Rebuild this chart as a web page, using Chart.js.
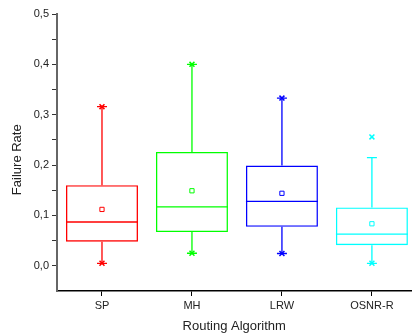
<!DOCTYPE html>
<html lang="en">
<head>
    <meta charset="UTF-8">
    <title>Failure Rate by Routing Algorithm</title>
    <style>
        body {
            margin: 0;
            overflow: hidden;
            background-color: white;
        }
    </style>
</head>
<body>
    <canvas id="chart" width="417" height="336"></canvas>

    <script src="https://cdn.jsdelivr.net/npm/chart.js"></script>
    <script>
        // Box plot values
        const categories = ['SP', 'MH', 'LRW', 'OSNR-R'];
        const colors = ['#ff0000', '#00ff00', '#0000ff', '#00ffff'];
        const q1 = [0.048, 0.067, 0.0775, 0.041];
        const median = [0.087, 0.117, 0.128, 0.063];
        const q3 = [0.160, 0.226, 0.199, 0.116];
        const whiskerLow = [0.005, 0.025, 0.0245, 0.005];
        const whiskerHigh = [0.316, 0.400, 0.333, 0.215];
        const means = [0.112, 0.149, 0.144, 0.0835];
        const minima = [0.005, 0.025, 0.0245, 0.005];
        const maxima = [0.316, 0.400, 0.333, 0.256];
        const yTicks = [0, 0.05, 0.1, 0.15, 0.2, 0.25, 0.3, 0.35, 0.4, 0.45, 0.5];

        const font = 'Liberation Sans, Arial, sans-serif';

        // median lines, whiskers and caps, drawn under the markers
        const boxParts = {
            id: 'boxParts',
            beforeDatasetsDraw(chart) {
                const { ctx, scales: { x, y } } = chart;
                const boxes = chart.getDatasetMeta(0).data;
                ctx.save();
                ctx.lineWidth = 1.3;
                categories.forEach((c, i) => {
                    const cx = x.getPixelForValue(i + 1);
                    const half = boxes[i].width / 2;
                    const capHalf = 5;
                    const yMed = y.getPixelForValue(median[i]);
                    const yHi = y.getPixelForValue(whiskerHigh[i]);
                    const yLo = y.getPixelForValue(whiskerLow[i]);
                    ctx.strokeStyle = colors[i];
                    ctx.beginPath();
                    ctx.moveTo(cx - half, yMed);
                    ctx.lineTo(cx + half, yMed);
                    ctx.moveTo(cx, y.getPixelForValue(q3[i]));
                    ctx.lineTo(cx, yHi);
                    ctx.moveTo(cx, y.getPixelForValue(q1[i]));
                    ctx.lineTo(cx, yLo);
                    ctx.moveTo(cx - capHalf, yHi);
                    ctx.lineTo(cx + capHalf, yHi);
                    ctx.moveTo(cx - capHalf, yLo);
                    ctx.lineTo(cx + capHalf, yLo);
                    ctx.stroke();
                });
                ctx.restore();
            }
        };

        const pts = arr => arr.map((v, i) => ({ x: i + 1, y: v }));

        new Chart(document.getElementById('chart'), {
            type: 'bar',
            data: {
                datasets: [
                    {
                        type: 'bar',
                        data: categories.map((c, i) => ({ x: i + 1, y: [q1[i], q3[i]] })),
                        backgroundColor: 'rgba(0,0,0,0)',
                        borderColor: colors,
                        borderWidth: 1.3,
                        borderSkipped: false,
                        barPercentage: 0.8,
                        categoryPercentage: 1
                    },
                    {
                        type: 'scatter',
                        data: pts(means),
                        pointStyle: 'rect',
                        pointRadius: 3,
                        pointBorderWidth: 1,
                        pointBorderColor: colors,
                        pointBackgroundColor: 'rgba(0,0,0,0)'
                    },
                    {
                        type: 'scatter',
                        data: pts(minima),
                        pointStyle: 'crossRot',
                        pointRadius: 3.5,
                        pointBorderWidth: 1.5,
                        pointBorderColor: colors
                    },
                    {
                        type: 'scatter',
                        data: pts(maxima),
                        pointStyle: 'crossRot',
                        pointRadius: 3.5,
                        pointBorderWidth: 1.5,
                        pointBorderColor: colors
                    }
                ]
            },
            options: {
                responsive: false,
                animation: false,
                layout: { padding: { top: 14, right: 0, bottom: 0, left: 0 } },
                plugins: {
                    legend: { display: false },
                    tooltip: { enabled: false }
                },
                scales: {
                    x: {
                        type: 'linear',
                        min: 0.5,
                        max: 4.44,
                        offset: false,
                        afterBuildTicks: s => { s.ticks = categories.map((c, i) => ({ value: i + 1 })); },
                        afterFit: s => { s.height = 45; },
                        ticks: {
                            callback: (v, i) => categories[i],
                            autoSkip: false,
                            maxRotation: 0,
                            padding: 3,
                            color: '#222',
                            font: { family: font, size: 11 }
                        },
                        grid: { drawOnChartArea: false, offset: false, tickLength: 5, color: '#000' },
                        border: { color: '#000', width: 1.5 },
                        title: {
                            display: true,
                            text: 'Routing Algorithm',
                            color: '#222',
                            font: { family: font, size: 13 },
                            padding: { top: 2, bottom: 2 }
                        }
                    },
                    y: {
                        min: -0.05,
                        max: 0.5,
                        afterBuildTicks: s => { s.ticks = yTicks.map(v => ({ value: v })); },
                        afterFit: s => { s.width = 57; },
                        ticks: {
                            callback: (v, i) => i % 2 === 0 ? v.toFixed(1).replace('.', ',') : '',
                            autoSkip: false,
                            padding: 3,
                            color: '#222',
                            font: { family: font, size: 11 }
                        },
                        grid: { drawOnChartArea: false, tickLength: 5, color: '#333' },
                        border: { color: '#666', width: 2 },
                        title: {
                            display: true,
                            text: 'Failure Rate    ',
                            color: '#222',
                            font: { family: font, size: 13 },
                            padding: { top: 10, bottom: 0 }
                        }
                    }
                }
            },
            plugins: [boxParts]
        });
    </script>
</body>
</html>
